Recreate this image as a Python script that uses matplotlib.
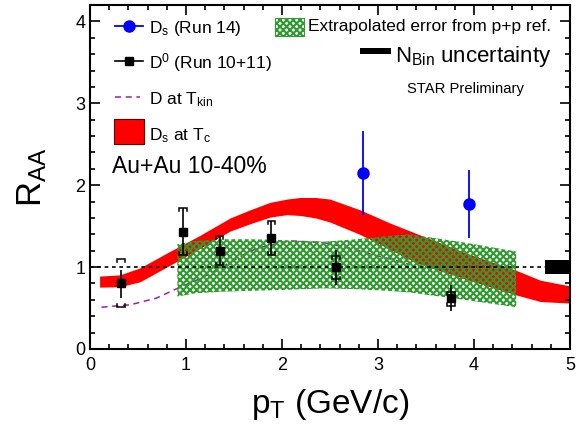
import numpy as np
import matplotlib
matplotlib.use("Agg")
import matplotlib.pyplot as plt
from matplotlib.patches import Rectangle
from matplotlib.lines import Line2D
from matplotlib.ticker import MultipleLocator

plt.rcParams['font.family'] = ['Liberation Sans', 'DejaVu Sans']
plt.rcParams['mathtext.fontset'] = 'custom'
plt.rcParams['mathtext.rm'] = 'Liberation Sans'
plt.rcParams['mathtext.it'] = 'Liberation Sans'
plt.rcParams['hatch.linewidth'] = 1.5

# D0 (Run 10+11) measurements
d0_pt = [0.32, 0.97, 1.35, 1.89, 2.56, 3.76]
d0_raa = [0.80, 1.43, 1.20, 1.35, 1.00, 0.62]
d0_stat_lo = [0.18, 0.28, 0.18, 0.20, 0.22, 0.16]
d0_stat_hi = [0.17, 0.29, 0.18, 0.21, 0.21, 0.16]
d0_sys_lo = [0.29, 0.28, 0.18, 0.20, 0.15, 0.09]
d0_sys_hi = [0.30, 0.29, 0.18, 0.21, 0.13, 0.08]

# Ds (Run 14) measurements
ds_pt = [2.84, 3.95]
ds_raa = [2.15, 1.77]
ds_err_lo = [0.52, 0.42]
ds_err_hi = [0.51, 0.42]

# Ds at Tc model band
tc_pt = [0.10, 0.31, 0.52, 0.83, 1.15, 1.46, 1.67, 1.875, 2.05, 2.19, 2.35, 2.50, 2.81, 3.12, 3.40, 3.92, 4.44, 4.69, 5.00]
tc_lo = [0.755, 0.76, 0.82, 1.02, 1.23, 1.44, 1.53, 1.61, 1.64, 1.63, 1.60, 1.55, 1.40, 1.22, 1.05, 0.85, 0.66, 0.58, 0.56]
tc_hi = [0.89, 0.905, 0.99, 1.19, 1.39, 1.60, 1.70, 1.79, 1.83, 1.85, 1.85, 1.83, 1.70, 1.54, 1.41, 1.17, 0.96, 0.84, 0.77]

# D at Tkin model curve
tkin_pt = [0.12, 0.42, 0.69, 0.91, 1.15, 1.39, 1.63, 1.74, 2.08, 2.43, 2.71, 2.95, 3.16, 3.33]
tkin_raa = [0.51, 0.54, 0.62, 0.74, 0.86, 1.01, 1.17, 1.23, 1.32, 1.30, 1.23, 1.15, 1.09, 1.03]

# Extrapolated p+p reference uncertainty band
pp_pt = [0.91, 1.10, 1.39, 1.67, 2.00, 2.43, 2.78, 3.10, 3.33, 3.90, 4.44]
pp_lo = [0.64, 0.68, 0.70, 0.71, 0.72, 0.74, 0.73, 0.71, 0.69, 0.60, 0.51]
pp_hi = [1.28, 1.32, 1.34, 1.34, 1.33, 1.31, 1.34, 1.38, 1.40, 1.30, 1.19]

# Ncoll normalisation uncertainty
nbin_err = 0.085
nbin_pt_range = [4.74, 5.0]

fig = plt.figure(figsize=(5.84, 4.30), dpi=100)
ax = fig.add_axes([0.1541, 0.1884, 0.8219, 0.8000])
ax.set_xlim(0, 5)
ax.set_ylim(0, 4.2)

green = '#2f9a2f'
purple = '#a020a0'

ax.fill_between(tc_pt, tc_lo, tc_hi, color='#ff0000', linewidth=0, zorder=1)
ax.plot(tkin_pt, tkin_raa, color=purple, ls=(0, (4, 3)), lw=1.1, zorder=2)
ax.fill_between(pp_pt, pp_lo, pp_hi, facecolor='none', edgecolor=green,
                hatch='xxxxx', linewidth=0, zorder=3)
ax.axhline(1.0, color='black', ls=(0, (2.2, 2.2)), lw=1.2, zorder=4)
ax.add_patch(Rectangle((nbin_pt_range[0], 1 - nbin_err),
                       nbin_pt_range[1] - nbin_pt_range[0], 2 * nbin_err,
                       facecolor='black', edgecolor='none', zorder=5, clip_on=False))

# D0 systematic brackets
bw, bt = 0.04, 0.035
for x, y, lo, hi in zip(d0_pt, d0_raa, d0_sys_lo, d0_sys_hi):
    for yy, s in ((y + hi, -1), (y - lo, 1)):
        ax.plot([x - bw, x - bw, x + bw, x + bw], [yy + s * bt, yy, yy, yy + s * bt],
                color='black', lw=1.1, zorder=6, solid_joinstyle='miter')
ax.errorbar(d0_pt, d0_raa, yerr=[d0_stat_lo, d0_stat_hi], fmt='s', color='black',
            ms=6, lw=1.2, capsize=0, zorder=7)
ax.errorbar(ds_pt, ds_raa, yerr=[ds_err_lo, ds_err_hi], fmt='o', color='#0000ff',
            ms=8, lw=1.3, capsize=0, zorder=7)

# axes styling
ax.xaxis.set_major_locator(MultipleLocator(1))
ax.xaxis.set_minor_locator(MultipleLocator(0.2))
ax.yaxis.set_major_locator(MultipleLocator(1))
ax.yaxis.set_minor_locator(MultipleLocator(0.2))
ax.tick_params(which='both', direction='in', top=True, right=True, width=1.2, labelsize=13)
ax.tick_params(which='major', length=7)
ax.tick_params(which='minor', length=3.5)
ax.tick_params(axis='x', pad=6)
for sp in ax.spines.values():
    sp.set_linewidth(1.5)

ax.set_xlabel(r'p$_\mathregular{T}$ (GeV/c)', fontsize=24)
ax.set_ylabel(r'R$_\mathregular{AA}$', fontsize=25)
ax.xaxis.set_label_coords(0.5, -0.11)
ax.yaxis.set_label_coords(-0.085, 0.5)

# legend drawn in axes coordinates
T = ax.transAxes
lx0, lx1, lxm = 0.052, 0.110, 0.081
tx = 0.1235
fs = 12.5
ax.add_line(Line2D([lx0, lx1], [0.939, 0.939], color='#0000ff', lw=1.3, transform=T))
ax.add_line(Line2D([lxm], [0.939], marker='o', color='#0000ff', ms=8, transform=T))
ax.text(tx, 0.918, r'D$_\mathregular{s}$ (Run 14)', fontsize=fs, transform=T, va='baseline')
ax.add_line(Line2D([lx0, lx1], [0.837, 0.837], color='black', lw=1.2, transform=T))
ax.add_line(Line2D([lxm], [0.837], marker='s', color='black', ms=6, transform=T))
ax.text(tx, 0.816, r'D$^\mathregular{0}$ (Run 10+11)', fontsize=fs, transform=T, va='baseline')
ax.add_line(Line2D([lx0, 0.105], [0.733, 0.733], color=purple, ls=(0, (4, 3)), lw=1.1, transform=T))
ax.text(tx, 0.712, r'D at T$_\mathregular{kin}$', fontsize=fs, transform=T, va='baseline')
ax.add_patch(Rectangle((0.05, 0.596), 0.0625, 0.073, facecolor='#ff0000',
                       edgecolor='#600000', lw=0.8, transform=T))
ax.text(tx, 0.6076, r'D$_\mathregular{s}$ at T$_\mathregular{c}$', fontsize=fs, transform=T, va='baseline')
ax.text(0.045, 0.5107, 'Au+Au 10-40%', fontsize=16.5, transform=T, va='baseline')

ax.add_patch(Rectangle((0.385, 0.910), 0.061, 0.052, facecolor='none', edgecolor=green,
                       hatch='xxxxx', lw=0.8, transform=T))
ax.text(0.454, 0.924, 'Extrapolated error from p+p ref.', fontsize=fs, transform=T, va='baseline')
ax.add_patch(Rectangle((0.5625, 0.858), 0.0645, 0.018, facecolor='black',
                       edgecolor='none', transform=T))
ax.text(0.635, 0.834, r'N$_\mathregular{Bin}$ uncertainty', fontsize=16, transform=T, va='baseline')
ax.text(0.660, 0.743, 'STAR Preliminary', fontsize=10.6, transform=T, va='baseline')

fig.savefig('out.png', dpi=100)
